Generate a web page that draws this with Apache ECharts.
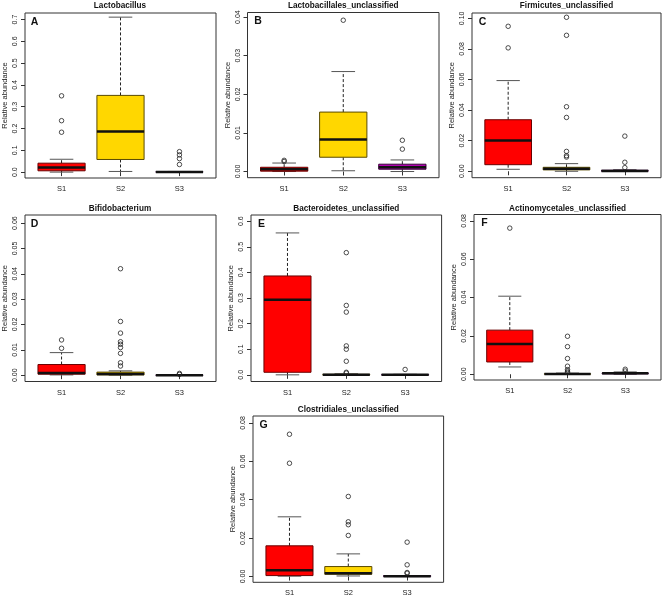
<!DOCTYPE html>
<html><head><meta charset="utf-8">
<script src="https://cdn.jsdelivr.net/npm/echarts@6/dist/echarts.min.js"></script>
<style>html,body{margin:0;padding:0;background:#fff}#c{width:666px;height:598px}</style>
</head><body><div id="c"></div>
<script>
// ---- data ----
const groups = ['S1', 'S2', 'S3'];
const groupColors = ['#FF0000', '#FFD700', '#B000B0'];
const groupBorders = ['#6a0000', '#5a4a00', '#3a003a'];

// stats per group: [lower whisker, Q1, median, Q3, upper whisker]
const aStats = [[0.000, 0.006, 0.021, 0.041, 0.059], [0.003, 0.058, 0.186, 0.352, 0.711], [0.000, 0.000, 0.001, 0.002, 0.003]];
const aOut = [[0.350, 0.236, 0.183], [], [0.094, 0.079, 0.062, 0.035]];
const aTicks = [0, 0.1, 0.2, 0.3, 0.4, 0.5, 0.6, 0.7];
const aTickLabels = ['0.0', '0.1', '0.2', '0.3', '0.4', '0.5', '0.6', '0.7'];

const bStats = [[0.0000, 0.0001, 0.0006, 0.0011, 0.0022], [0.0002, 0.0037, 0.0083, 0.0154, 0.0259], [0.0000, 0.0006, 0.0011, 0.0019, 0.0030]];
const bOut = [[0.0029, 0.0026], [0.0392], [0.0081, 0.0058]];
const bTicks = [0, 0.01, 0.02, 0.03, 0.04];
const bTickLabels = ['0.00', '0.01', '0.02', '0.03', '0.04'];

const cStats = [[0.0013, 0.0043, 0.0202, 0.0337, 0.0593], [0.0000, 0.0009, 0.0017, 0.0026, 0.0050], [0.0000, 0.0000, 0.0002, 0.0007, 0.0010]];
const cOut = [[0.0807, 0.0948], [0.0093, 0.0102, 0.0130, 0.0352, 0.0422, 0.0889, 0.1007], [0.0024, 0.0059, 0.0230]];
const cTicks = [0, 0.02, 0.04, 0.06, 0.08, 0.10];
const cTickLabels = ['0.00', '0.02', '0.04', '0.06', '0.08', '0.10'];

const dStats = [[0.0001, 0.0004, 0.0009, 0.0042, 0.0089], [0.0000, 0.0001, 0.0005, 0.0012, 0.0017], [0.0000, 0.0000, 0.0000, 0.0001, 0.0002]];
const dOut = [[0.0106, 0.0139], [0.0036, 0.0049, 0.0086, 0.0109, 0.0122, 0.0132, 0.0166, 0.0212, 0.0420], [0.0003, 0.0007]];
const dTicks = [0, 0.01, 0.02, 0.03, 0.04, 0.05, 0.06];
const dTickLabels = ['0.00', '0.01', '0.02', '0.03', '0.04', '0.05', '0.06'];

const eStats = [[0.000, 0.010, 0.293, 0.386, 0.554], [0.000, 0.000, 0.000, 0.002, 0.004], [0.000, 0.000, 0.000, 0.001, 0.002]];
const eOut = [[], [0.007, 0.010, 0.053, 0.100, 0.113, 0.245, 0.271, 0.477], [0.021]];
const eTicks = [0, 0.1, 0.2, 0.3, 0.4, 0.5, 0.6];
const eTickLabels = ['0.0', '0.1', '0.2', '0.3', '0.4', '0.5', '0.6'];

const fStats = [[0.0038, 0.0064, 0.0158, 0.0230, 0.0407], [0.0000, 0.0000, 0.0001, 0.0003, 0.0006], [0.0000, 0.0002, 0.0005, 0.0007, 0.0012]];
const fOut = [[0.0762], [0.0009, 0.0016, 0.0024, 0.0042, 0.0082, 0.0144, 0.0198], [0.0017, 0.0026]];
const fTicks = [0, 0.02, 0.04, 0.06, 0.08];
const fTickLabels = ['0.00', '0.02', '0.04', '0.06', '0.08'];

const gStats = [[0.0002, 0.0005, 0.0033, 0.0160, 0.0311], [0.0003, 0.0012, 0.0017, 0.0052, 0.0118], [0.0000, 0.0000, 0.0001, 0.0005, 0.0005]];
const gOut = [[0.0590, 0.0741], [0.0214, 0.0270, 0.0285, 0.0417], [0.0017, 0.0021, 0.0061, 0.0179]];
const gTicks = [0, 0.02, 0.04, 0.06, 0.08];
const gTickLabels = ['0.00', '0.02', '0.04', '0.06', '0.08'];

const titles = ['Lactobacillus', 'Lactobacillales_unclassified', 'Firmicutes_unclassified', 'Bifidobacterium', 'Bacteroidetes_unclassified', 'Actinomycetales_unclassified', 'Clostridiales_unclassified'];
const letters = ['A', 'B', 'C', 'D', 'E', 'F', 'G'];

// ---- layout ----
const panels = [
  { stats: aStats, out: aOut, ticks: aTicks, labels: aTickLabels, ymin: -0.027, ymax: 0.730, box: [24, 13, 216, 178], ty: 5.7 },
  { stats: bStats, out: bOut, ticks: bTicks, labels: bTickLabels, ymin: -0.0016, ymax: 0.0412, box: [247.5, 12.5, 439, 177.7], ty: 5.7 },
  { stats: cStats, out: cOut, ticks: cTicks, labels: cTickLabels, ymin: -0.0042, ymax: 0.1035, box: [472, 13, 661, 177.7], ty: 5.7 },
  { stats: dStats, out: dOut, ticks: dTicks, labels: dTickLabels, ymin: -0.0025, ymax: 0.0632, box: [24, 215, 216, 381.5], ty: 209 },
  { stats: eStats, out: eOut, ticks: eTicks, labels: eTickLabels, ymin: -0.026, ymax: 0.624, box: [251, 215, 441.6, 381.5], ty: 209 },
  { stats: fStats, out: fOut, ticks: fTicks, labels: fTickLabels, ymin: -0.003, ymax: 0.0833, box: [474, 214.5, 661, 380], ty: 208.5 },
  { stats: gStats, out: gOut, ticks: gTicks, labels: gTickLabels, ymin: -0.003, ymax: 0.0836, box: [253, 416, 443.6, 582.3], ty: 410 }
];

const FONT = '"Liberation Sans", Arial, sans-serif';
const grid = [], xAxis = [], yAxis = [], series = [], graphic = [];

panels.forEach((p, i) => {
  const [x0, y0, x1, y1] = p.box;
  grid.push({ left: x0, top: y0, width: x1 - x0, height: y1 - y0, show: true, borderColor: '#333', borderWidth: 1, backgroundColor: 'transparent' });
  xAxis.push({
    type: 'value', gridIndex: i, min: 0.38, max: 3.62,
    axisLine: { show: false }, splitLine: { show: false },
    axisTick: { show: true, customValues: [1, 2, 3], length: 4, lineStyle: { color: '#333', width: 1 } },
    axisLabel: { show: true, customValues: [1, 2, 3], formatter: v => groups[Math.round(v) - 1], fontSize: 7.5, margin: 7, color: '#222', fontFamily: FONT }
  });
  yAxis.push({
    type: 'value', gridIndex: i, min: p.ymin, max: p.ymax,
    axisLine: { show: false }, splitLine: { show: false },
    axisTick: { show: true, customValues: p.ticks, length: 4, lineStyle: { color: '#333', width: 1 } },
    axisLabel: {
      show: true, customValues: p.ticks, rotate: 90, fontSize: 7, margin: 6, color: '#222', fontFamily: FONT,
      formatter: v => { const k = p.ticks.findIndex(t => Math.abs(t - v) < 1e-9); return k >= 0 ? p.labels[k] : ''; }
    },
    name: 'Relative abundance', nameLocation: 'middle', nameGap: 16, nameRotate: 90,
    nameTextStyle: { fontSize: 7.5, color: '#222', fontFamily: FONT }
  });
  series.push({
    type: 'custom', xAxisIndex: i, yAxisIndex: i, clip: false, z: 2,
    data: p.stats.map((s, k) => [k + 1].concat(s)),
    encode: { x: 0, y: [1, 2, 3, 4, 5] },
    renderItem: (params, api) => {
      const x = api.value(0), lo = api.value(1), q1 = api.value(2), med = api.value(3), q3 = api.value(4), hi = api.value(5);
      const k = params.dataIndex;
      const tl = api.coord([x - 0.4, q3]), br = api.coord([x + 0.4, q1]);
      const c = api.coord([x, 0]);
      const pHi = api.coord([x, hi]), pLo = api.coord([x, lo]);
      const pQ3 = api.coord([x, q3]), pQ1 = api.coord([x, q1]);
      const capL = api.coord([x - 0.2, 0])[0], capR = api.coord([x + 0.2, 0])[0];
      const mL = api.coord([x - 0.4, med]), mR = api.coord([x + 0.4, med]);
      const dash = { stroke: '#222', lineWidth: 1, lineDash: [3, 2] };
      const cap = { stroke: '#555', lineWidth: 1 };
      return {
        type: 'group', children: [
          { type: 'line', shape: { x1: c[0], y1: pQ3[1], x2: c[0], y2: pHi[1] }, style: dash },
          { type: 'line', shape: { x1: c[0], y1: pQ1[1], x2: c[0], y2: pLo[1] }, style: dash },
          { type: 'line', shape: { x1: capL, y1: pHi[1], x2: capR, y2: pHi[1] }, style: cap },
          { type: 'line', shape: { x1: capL, y1: pLo[1], x2: capR, y2: pLo[1] }, style: cap },
          { type: 'rect', shape: { x: tl[0], y: tl[1], width: br[0] - tl[0], height: Math.max(br[1] - tl[1], 0.5) },
            style: { fill: groupColors[k], stroke: groupBorders[k], lineWidth: 1 } },
          { type: 'line', shape: { x1: mL[0], y1: mL[1], x2: mR[0], y2: mR[1] }, style: { stroke: '#111', lineWidth: 2.5 } }
        ]
      };
    }
  });
  const pts = [];
  p.out.forEach((arr, k) => arr.forEach(v => pts.push([k + 1, v])));
  series.push({
    type: 'scatter', xAxisIndex: i, yAxisIndex: i, z: 3, clip: false,
    symbol: 'circle', symbolSize: 4.5, data: pts,
    itemStyle: { color: 'rgba(0,0,0,0)', borderColor: '#222', borderWidth: 1 }
  });
  graphic.push({ type: 'text', x: (x0 + x1) / 2, y: p.ty, style: { text: titles[i], textAlign: 'center', textVerticalAlign: 'middle', font: 'bold 8.2px ' + FONT, fill: '#111' } });
  graphic.push({ type: 'text', x: x0 + 10.5, y: y0 + 9, style: { text: letters[i], textAlign: 'center', textVerticalAlign: 'middle', font: 'bold 10.5px ' + FONT, fill: '#111' } });
});

const chart = echarts.init(document.getElementById('c'), null, { renderer: 'canvas' });
chart.setOption({ animation: false, backgroundColor: '#fff', grid, xAxis, yAxis, series, graphic });
</script>
</body></html>
